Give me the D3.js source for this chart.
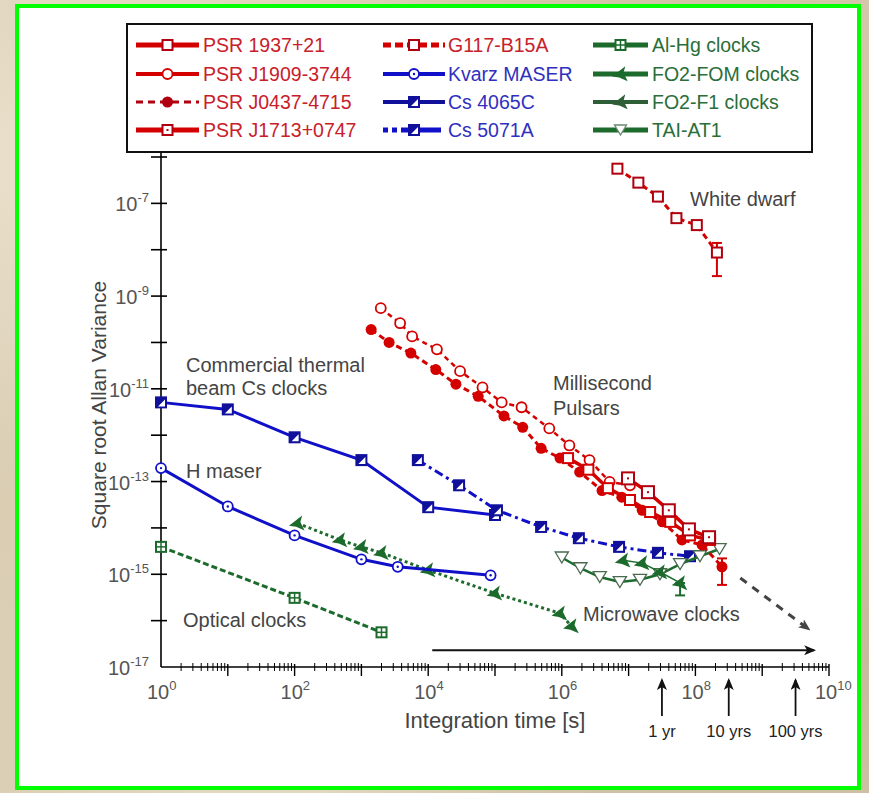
<!DOCTYPE html>
<html>
<head>
<meta charset="utf-8">
<script src="https://cdn.jsdelivr.net/npm/d3@7"></script>
<style>
  html, body { margin: 0; padding: 0; }
  body {
    width: 869px; height: 793px; overflow: hidden;
    background-color: #d8cbb0;
    background-image:
      radial-gradient(ellipse at 10% 20%, rgba(240,232,214,0.8), rgba(240,232,214,0) 40%),
      radial-gradient(ellipse at 90% 80%, rgba(190,175,145,0.7), rgba(190,175,145,0) 45%),
      radial-gradient(ellipse at 30% 90%, rgba(235,225,205,0.7), rgba(235,225,205,0) 40%),
      radial-gradient(ellipse at 80% 10%, rgba(205,190,160,0.7), rgba(205,190,160,0) 40%);
  }
  text { font-family: "Liberation Sans", Arial, sans-serif; }
</style>
</head>
<body>
<svg id="chart" width="869" height="793"></svg>
<script>
// ---- data: [integration time (s), sqrt Allan variance] ----
const psr1937 = [[1.24e6,3.2e-13],[2.5e6,1.8e-13],[4.9e6,7.2e-14],[1.05e7,4.0e-14],[2.1e7,2.2e-14],[4.2e7,1.35e-14],[8.3e7,6.9e-15],[1.66e8,5.5e-15]];
const psrJ1909 = [[1950,5.5e-10],[3800,2.6e-10],[5750,1.35e-10],[1.35e4,7.1e-11],[3.0e4,2.4e-11],[6.5e4,1.07e-11],[1.26e5,5.1e-12],[2.5e5,4.0e-12],[6.5e5,1.4e-12],[1.3e6,6.0e-13],[2.6e6,2.9e-13],[5.2e6,9.8e-14],[1.05e7,8.3e-14]];
const psrJ0437 = [[1400,1.9e-10],[2600,1.0e-10],[5500,5.9e-11],[1.3e4,2.6e-11],[2.6e4,1.26e-11],[5.6e4,6.9e-12],[1.36e5,2.6e-12],[2.6e5,1.48e-12],[4.9e5,5.2e-13],[9.4e5,3.2e-13],[1.85e6,1.6e-13],[4.0e6,6.4e-14],[7.9e6,4.6e-14],[1.6e7,2.4e-14],[3.2e7,1.35e-14],[6.3e7,5.5e-15],[1.26e8,4.3e-15],[2.5e8,1.45e-15]];
const psrJ0437Err = [5.9e-16, 2.2e-15];
const psrJ1713 = [[9.8e6,1.17e-13],[1.95e7,5.9e-14],[4.0e7,2.4e-14],[8.0e7,9.3e-15],[1.6e8,6.3e-15]];
const g117 = [[6.8e6,5.6e-7],[1.4e7,2.8e-7],[2.75e7,1.4e-7],[5.2e7,4.8e-8],[1.05e8,3.4e-8],[2.1e8,8.7e-9]];
const g117Err = [2.7e-9, 1.4e-8];
const kvarz = [[1,1.95e-13],[10,2.9e-14],[100,6.9e-15],[1000,2.1e-15],[3500,1.45e-15],[8.6e4,9.5e-16]];
const cs4065 = [[1,5.1e-12],[10,3.6e-12],[100,9e-13],[1000,2.9e-13],[1e4,2.8e-14],[1e5,1.9e-14]];
const cs5071 = [[7000,2.9e-13],[2.9e4,8.3e-14],[1.07e5,2.4e-14],[4.9e5,1.05e-14],[1.8e6,6e-15],[7.2e6,3.9e-15],[2.75e7,2.9e-15],[8.3e7,2.45e-15]];
const alHg = [[1,3.9e-15],[100,3.1e-16],[2000,5.6e-17]];
const fo2fom = [[110,1.26e-14],[480,5.5e-15],[1000,3.9e-15],[2000,2.9e-15],[1e4,1.23e-15],[1e5,3.9e-16],[9.4e5,1.44e-16],[1.4e6,7.6e-17]];
const fo2f1 = [[8.3e6,2.0e-15],[1.6e7,1.74e-15],[2.95e7,1.12e-15],[5.9e7,6.5e-16]];
const fo2f1Err = [3.5e-16, 6.5e-16];
const taiAt1 = [[1e6,2.3e-15],[1.9e6,1.35e-15],[3.7e6,8.7e-16],[7.4e6,6.8e-16],[1.48e7,7.6e-16],[2.95e7,1.0e-15],[5.9e7,1.66e-15],[1.17e8,2.45e-15],[2.3e8,3.5e-15]];

const xDecades = [0,1,2,3,4,5,6,7,8,9,10];
const xLabelDecades = [0,2,4,6,8,10];
const yDecades = [-17,-16,-15,-14,-13,-12,-11,-10,-9,-8,-7,-6];
const yLabelDecades = [-17,-15,-13,-11,-9,-7];
const yearMarks = [["1 yr",3.156e7],["10 yrs",3.156e8],["100 yrs",3.156e9]];

const RED = "#d40000", DRED = "#b00010", BLUE = "#1010c8", DBLUE = "#10109a", GREEN = "#1c6b2c";

const svg = d3.select("#chart");
const x = d3.scaleLog().domain([1, 1e10]).range([161, 829]);
const y = d3.scaleLog().domain([1e-17, 1e-6]).range([667, 157]);

// frame
svg.append("rect").attr("x", 17).attr("y", 6).attr("width", 842).attr("height", 782)
  .attr("fill", "#fff").attr("stroke", "#00ff00").attr("stroke-width", 4);

// axes
const ax = svg.append("g").attr("stroke", "#000");
ax.append("line").attr("x1", x(1)).attr("x2", x(1)).attr("y1", 152).attr("y2", y(1e-17)).attr("stroke-width", 1.6);
ax.append("line").attr("x1", x(1)).attr("x2", x(1e10)).attr("y1", y(1e-17)).attr("y2", y(1e-17)).attr("stroke-width", 1.6);
yDecades.slice(1).forEach(d => {
  ax.append("line").attr("x1", x(1) - 10).attr("x2", x(1) + 6)
    .attr("y1", y(Math.pow(10, d))).attr("y2", y(Math.pow(10, d))).attr("stroke-width", 1.6);
});
xDecades.forEach(d => {
  const v = Math.pow(10, d);
  if (d > 0) ax.append("line").attr("x1", x(v)).attr("x2", x(v)).attr("y1", y(1e-17) - 3).attr("y2", y(1e-17) + 9).attr("stroke-width", 1.4);
  if (d < 10) d3.range(2, 10).forEach(m => {
    ax.append("line").attr("x1", x(m * v)).attr("x2", x(m * v)).attr("y1", y(1e-17) - 4).attr("y2", y(1e-17) + 4).attr("stroke-width", 1);
  });
});

function powLabel(g, d, px, py, anchor) {
  const t = g.append("text").attr("x", px).attr("y", py).attr("fill", "#555").attr("font-size", 20).attr("text-anchor", anchor);
  t.append("tspan").text("10");
  t.append("tspan").attr("font-size", 13).attr("dy", -9).text(d);
}
yLabelDecades.forEach(d => powLabel(svg, d, x(1) - 12, y(Math.pow(10, d)) + 8, "end"));
xLabelDecades.forEach(d => powLabel(svg, d, x(Math.pow(10, d)) - 14, y(1e-17) + 32, "start"));

svg.append("text").attr("transform", "translate(106,405) rotate(-90)").attr("text-anchor", "middle")
  .attr("font-size", 21).attr("fill", "#444").text("Square root Allan Variance");
svg.append("text").attr("x", 495).attr("y", 728).attr("text-anchor", "middle")
  .attr("font-size", 22).attr("fill", "#444").text("Integration time [s]");

// arrow heads
const defs = svg.append("defs");
[["arrowK", "#111"], ["arrowG", "#444"]].forEach(([id, c]) => {
  defs.append("marker").attr("id", id).attr("viewBox", "0 0 12 10").attr("refX", 10).attr("refY", 5)
    .attr("markerWidth", 12).attr("markerHeight", 10).attr("markerUnits", "userSpaceOnUse").attr("orient", "auto")
    .append("path").attr("d", "M0,0 L12,5 L0,10 L3,5 Z").attr("fill", c);
});

// markers
function marker(g, type, color, cx, cy, s) {
  s = s || 5;
  const m = g.append("g").attr("transform", `translate(${cx},${cy})`);
  if (type === "sq" || type === "sqdot" || type === "cross") {
    m.append("rect").attr("x", -s).attr("y", -s).attr("width", 2 * s).attr("height", 2 * s)
      .attr("fill", "#fff").attr("stroke", color).attr("stroke-width", 2);
    if (type === "sqdot") m.append("rect").attr("x", -1).attr("y", -1).attr("width", 2).attr("height", 2).attr("fill", color);
    if (type === "cross") {
      m.append("line").attr("x1", -s).attr("x2", s).attr("y1", 0).attr("y2", 0).attr("stroke", color).attr("stroke-width", 1.5);
      m.append("line").attr("x1", 0).attr("x2", 0).attr("y1", -s).attr("y2", s).attr("stroke", color).attr("stroke-width", 1.5);
    }
  } else if (type === "circ" || type === "circdot") {
    m.append("circle").attr("r", s).attr("fill", "#fff").attr("stroke", color).attr("stroke-width", 1.8);
    if (type === "circdot") m.append("circle").attr("r", 1.2).attr("fill", color);
  } else if (type === "dot") {
    m.append("circle").attr("r", s + 0.5).attr("fill", color);
  } else if (type === "half") {
    m.append("rect").attr("x", -s).attr("y", -s).attr("width", 2 * s).attr("height", 2 * s)
      .attr("fill", color).attr("stroke", color).attr("stroke-width", 2);
    m.append("path").attr("d", `M${s - 1},${-s + 2} L${s - 1},${s - 1} L${-s + 2},${s - 1} Z`).attr("fill", "#fff");
  } else if (type === "flag") {
    m.append("path").attr("d", `M${-1.4 * s},${0.4 * s} L${0.8 * s},${-1.3 * s} L${0.5 * s},${-0.2 * s} L${1.2 * s},${1.2 * s} L${-0.2 * s},${0.6 * s} Z`)
      .attr("fill", color);
  } else if (type === "tri") {
    m.append("path").attr("d", `M${-1.2 * s},${-s} L${1.2 * s},${-s} L0,${s} Z`)
      .attr("fill", "#fff").attr("stroke", color).attr("stroke-width", 1.3);
  }
}

const line = d3.line().x(d => x(d[0])).y(d => y(d[1]));
function series(data, opt) {
  const g = svg.append("g");
  g.append("path").datum(data).attr("d", line).attr("fill", "none").attr("stroke", opt.color)
    .attr("stroke-width", opt.width).attr("stroke-dasharray", opt.dash || null);
  data.forEach(d => marker(g, opt.marker, opt.mcolor || opt.color, x(d[0]), y(d[1]), opt.size));
  return g;
}
function errBar(xv, lo, hi, color) {
  const g = svg.append("g").attr("stroke", color).attr("stroke-width", 2);
  g.append("line").attr("x1", x(xv)).attr("x2", x(xv)).attr("y1", y(lo)).attr("y2", y(hi));
  [lo, hi].forEach(v => g.append("line").attr("x1", x(xv) - 5).attr("x2", x(xv) + 5).attr("y1", y(v)).attr("y2", y(v)));
}

// green / blue series
series(alHg, { color: GREEN, width: 3, dash: "6,3", marker: "cross", size: 5 });
series(fo2fom, { color: GREEN, width: 3, dash: "3,3", marker: "flag", size: 6 });
series(kvarz, { color: BLUE, width: 3, marker: "circdot", size: 5 });
series(cs4065, { color: BLUE, width: 3, marker: "half", mcolor: DBLUE, size: 5 });
series(cs5071, { color: BLUE, width: 3, dash: "9,4,3,4", marker: "half", mcolor: DBLUE, size: 5 });
series(taiAt1, { color: GREEN, width: 2.5, marker: "tri", mcolor: "#4a6a50", size: 5.5 });
errBar(fo2f1[3][0], fo2f1Err[0], fo2f1Err[1], GREEN);
series(fo2f1, { color: GREEN, width: 1.5, marker: "flag", size: 6 });

// red series
errBar(g117[5][0], g117Err[0], g117Err[1], RED);
series(g117, { color: RED, width: 3, dash: "6,4", marker: "sq", mcolor: DRED, size: 5 });
series(psrJ1909, { color: RED, width: 2.5, dash: "5,4", marker: "circ", size: 5 });
errBar(psrJ0437[17][0], psrJ0437Err[0], psrJ0437Err[1], RED);
series(psrJ0437, { color: RED, width: 3, dash: "6,4", marker: "dot", size: 5 });
series(psr1937, { color: RED, width: 3.5, marker: "sq", size: 5 });
series(psrJ1713, { color: RED, width: 3.5, marker: "sqdot", mcolor: DRED, size: 6 });

// arrows
svg.append("line").attr("x1", x(1.15e4)).attr("x2", x(6e9)).attr("y1", y(2.3e-17)).attr("y2", y(2.3e-17))
  .attr("stroke", "#111").attr("stroke-width", 2).attr("marker-end", "url(#arrowK)");
svg.append("line").attr("x1", x(4.7e8)).attr("x2", x(5e9)).attr("y1", y(8.3e-16)).attr("y2", y(6.5e-17))
  .attr("stroke", "#444").attr("stroke-width", 3).attr("stroke-dasharray", "8,7").attr("marker-end", "url(#arrowG)");
yearMarks.forEach(([lab, v]) => {
  svg.append("line").attr("x1", x(v)).attr("x2", x(v)).attr("y1", 716).attr("y2", 680)
    .attr("stroke", "#111").attr("stroke-width", 1.8).attr("marker-end", "url(#arrowK)");
  svg.append("text").attr("x", x(v)).attr("y", 737).attr("text-anchor", "middle").attr("font-size", 16.5)
    .attr("fill", "#222").text(lab);
});

// annotations
const notes = [
  ["White dwarf", 690, 206], ["Millisecond", 553, 390], ["Pulsars", 553, 415],
  ["Commercial thermal", 186, 372], ["beam Cs clocks", 186, 395], ["H maser", 186, 478],
  ["Optical clocks", 183, 627], ["Microwave clocks", 583, 621]
];
notes.forEach(([t, px, py]) => svg.append("text").attr("x", px).attr("y", py).attr("font-size", 20).attr("fill", "#444").text(t));

// legend
const lg = svg.append("g");
lg.append("rect").attr("x", 127).attr("y", 24).attr("width", 685).attr("height", 128)
  .attr("fill", "#fff").attr("stroke", "#111").attr("stroke-width", 2);
const legendRows = [
  { label: "PSR 1937+21", col: 0, row: 0, color: RED, tcolor: "#c8202a", marker: "sq", mcolor: DRED, width: 5 },
  { label: "PSR J1909-3744", col: 0, row: 1, color: RED, tcolor: "#c8202a", marker: "circ", width: 4 },
  { label: "PSR J0437-4715", col: 0, row: 2, color: DRED, tcolor: "#c8202a", marker: "dot", dash: "7,5", width: 3 },
  { label: "PSR J1713+0747", col: 0, row: 3, color: RED, tcolor: "#c8202a", marker: "sqdot", mcolor: DRED, width: 5 },
  { label: "G117-B15A", col: 1, row: 0, color: RED, tcolor: "#c8202a", marker: "sq", mcolor: DRED, dash: "8,4", width: 5 },
  { label: "Kvarz MASER", col: 1, row: 1, color: BLUE, tcolor: "#3030c0", marker: "circdot", width: 4 },
  { label: "Cs 4065C", col: 1, row: 2, color: DBLUE, tcolor: "#3030c0", marker: "half", width: 4 },
  { label: "Cs 5071A", col: 1, row: 3, color: BLUE, tcolor: "#3030c0", marker: "half", mcolor: DBLUE, dash: "5,4,5,4,40", width: 5 },
  { label: "Al-Hg clocks", col: 2, row: 0, color: GREEN, tcolor: "#2a6e3a", marker: "cross", width: 5 },
  { label: "FO2-FOM clocks", col: 2, row: 1, color: GREEN, tcolor: "#2a6e3a", marker: "flag", width: 5 },
  { label: "FO2-F1 clocks", col: 2, row: 2, color: "#2d5e36", tcolor: "#2a6e3a", marker: "flag", width: 4 },
  { label: "TAI-AT1", col: 2, row: 3, color: GREEN, tcolor: "#2a6e3a", marker: "tri", mcolor: "#6a8a70", width: 5 }
];
const colX = [[136, 199, 203], [383, 445, 448], [593, 648, 652]];
const rowY = [45, 74, 102, 130];
legendRows.forEach(r => {
  const [x0, x1, tx] = colX[r.col], yy = rowY[r.row];
  lg.append("line").attr("x1", x0).attr("x2", x1).attr("y1", yy).attr("y2", yy)
    .attr("stroke", r.color).attr("stroke-width", r.width).attr("stroke-dasharray", r.dash || null);
  marker(lg, r.marker, r.mcolor || r.color, (x0 + x1) / 2, yy, r.marker === "flag" ? 6 : 5);
  lg.append("text").attr("x", tx).attr("y", yy + 7).attr("font-size", 19.5).attr("fill", r.tcolor).text(r.label);
});
</script>
</body>
</html>
